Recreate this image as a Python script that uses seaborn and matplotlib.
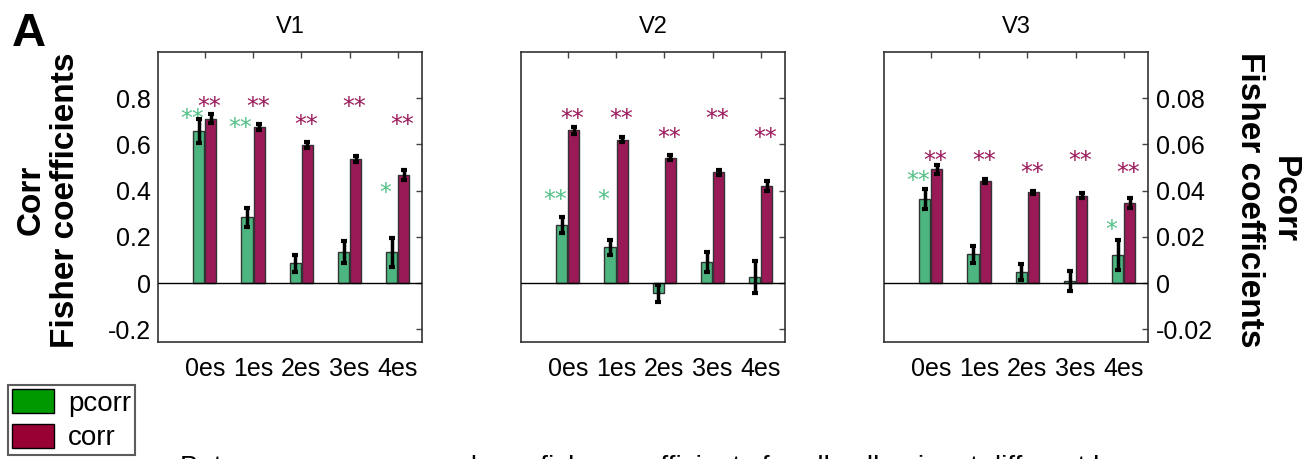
import numpy as np
import pandas as pd
import matplotlib
matplotlib.use("Agg")
import matplotlib.pyplot as plt
from matplotlib.patches import Patch
from matplotlib.ticker import FuncFormatter
import seaborn as sns

sns.set_theme(style="white")
plt.rcParams['font.family'] = ['Liberation Sans', 'DejaVu Sans']
plt.rcParams['text.color'] = 'black'
plt.rcParams['xtick.color'] = 'black'
plt.rcParams['ytick.color'] = 'black'
plt.rcParams['axes.labelcolor'] = 'black'

groups = ['0es', '1es', '2es', '3es', '4es']
areas = ['V1', 'V2', 'V3']

# corr on the left axis, pcorr on the right axis (10x finer)
v1_corr = [0.712, 0.676, 0.597, 0.535, 0.467]
v1_corr_err = [0.020, 0.013, 0.013, 0.013, 0.022]
v1_pcorr = [0.0659, 0.0284, 0.0085, 0.0134, 0.0134]
v1_pcorr_err = [0.0053, 0.0040, 0.0038, 0.0047, 0.0063]

v2_corr = [0.662, 0.621, 0.543, 0.479, 0.421]
v2_corr_err = [0.015, 0.010, 0.010, 0.012, 0.022]
v2_pcorr = [0.0251, 0.0154, -0.0045, 0.0092, 0.0027]
v2_pcorr_err = [0.0036, 0.0033, 0.0038, 0.0043, 0.0069]

v3_corr = [0.492, 0.442, 0.392, 0.378, 0.345]
v3_corr_err = [0.018, 0.008, 0.008, 0.010, 0.022]
v3_pcorr = [0.0363, 0.0124, 0.0049, 0.0010, 0.0121]
v3_pcorr_err = [0.0043, 0.0035, 0.0035, 0.0043, 0.0065]

# significance marks and the height they sit at
corr_stars = ['**', '**', '**', '**', '**']
v1_corr_star_y = [0.791, 0.791, 0.714, 0.791, 0.714]
v2_corr_star_y = [0.741, 0.741, 0.659, 0.741, 0.659]
v3_corr_star_y = [0.558, 0.558, 0.507, 0.558, 0.507]
v1_pcorr_stars = ['**', '**', '', '', '*']
v2_pcorr_stars = ['**', '*', '', '', '']
v3_pcorr_stars = ['**', '', '', '', '*']
v1_pcorr_star_y = [0.0739, 0.0702, np.nan, np.nan, 0.0421]
v2_pcorr_star_y = [0.0388, 0.0390, np.nan, np.nan, np.nan]
v3_pcorr_star_y = [0.0471, np.nan, np.nan, np.nan, 0.0261]

PCORR_SCALE = 10.0

panels = [
    (v1_corr, v1_corr_err, v1_pcorr, v1_pcorr_err, v1_corr_star_y, v1_pcorr_stars, v1_pcorr_star_y),
    (v2_corr, v2_corr_err, v2_pcorr, v2_pcorr_err, v2_corr_star_y, v2_pcorr_stars, v2_pcorr_star_y),
    (v3_corr, v3_corr_err, v3_pcorr, v3_pcorr_err, v3_corr_star_y, v3_pcorr_stars, v3_pcorr_star_y),
]

bar_colors = {'pcorr': '#4db57f', 'corr': '#9a1a58'}
star_colors = {'pcorr': '#55c088', 'corr': '#9a1a5c'}
star_shift = {'pcorr': -5, 'corr': -1}
W, H = 1314, 459
fig = plt.figure(figsize=(W / 100, H / 100), dpi=100)
lefts = [158, 521, 884]

for k, (corr, corr_err, pcorr, pcorr_err, cstar_y, pstars, pstar_y) in enumerate(panels):
    ax = fig.add_axes([lefts[k] / W, 1 - 342 / H, 264 / W, 290 / H])
    df = pd.DataFrame({
        'group': groups * 2,
        'kind': ['pcorr'] * 5 + ['corr'] * 5,
        'value': [p * PCORR_SCALE for p in pcorr] + list(corr),
    })
    errs = {'pcorr': [e * PCORR_SCALE for e in pcorr_err], 'corr': list(corr_err)}
    sns.barplot(data=df, x='group', y='value', hue='kind', hue_order=['pcorr', 'corr'],
                palette=bar_colors, width=0.5, gap=0.08, errorbar=None, legend=False,
                edgecolor='#333333', linewidth=1, saturation=1, ax=ax)

    star_info = {'pcorr': (pstars, [y * PCORR_SCALE for y in pstar_y]),
                 'corr': (corr_stars, cstar_y)}
    for kind, cont in zip(['pcorr', 'corr'], ax.containers):
        xs = [b.get_x() + b.get_width() / 2 for b in cont]
        hs = [b.get_height() for b in cont]
        ax.errorbar(xs, hs, yerr=errs[kind], fmt='none', ecolor='black',
                    elinewidth=2.5, capsize=2.5, capthick=3, zorder=5)
        labels, ys = star_info[kind]
        for x, lab, y in zip(xs, labels, ys):
            if lab and not np.isnan(y):
                ax.annotate(lab, (x, y), xytext=(star_shift[kind], -10),
                            textcoords='offset points', ha='center', va='baseline',
                            fontsize=17, color=star_colors[kind], family='DejaVu Sans')

    ax.axhline(0, color='black', lw=1, zorder=4)
    ax.set_xlim(-0.97, 4.5)
    ax.set_ylim(-0.255, 1.0)
    ax.set_yticks([-0.2, 0, 0.2, 0.4, 0.6, 0.8])
    ax.yaxis.set_major_formatter(FuncFormatter(lambda v, p: '%g' % round(v, 3)))
    ax.set_xlabel('')
    ax.set_ylabel('')
    ax.set_title(areas[k], fontsize=17, pad=14)
    ax.tick_params(direction='in', length=4, width=1, color='#444444',
                   top=True, right=True, labelsize=18, pad=5)
    ax.tick_params(axis='x', pad=11)
    if k > 0:
        ax.tick_params(labelleft=False)
    for s in ax.spines.values():
        s.set_color('#333333')
        s.set_linewidth(1.2)

    if k == 2:
        sec = ax.secondary_yaxis('right', functions=(lambda v: v / PCORR_SCALE,
                                                     lambda v: v * PCORR_SCALE))
        sec.set_yticks([-0.02, 0, 0.02, 0.04, 0.06, 0.08])
        sec.yaxis.set_major_formatter(FuncFormatter(lambda v, p: '%g' % round(v, 4)))
        sec.tick_params(length=0, labelsize=18, pad=6)
        sec.spines['right'].set_visible(False)

fig.text(48 / W, 1 - 200 / H, 'Corr\nFisher coefficients', rotation=90, ha='center',
         va='center', multialignment='center', fontsize=24, fontweight='bold',
         linespacing=1.15)
fig.text(1267 / W, 1 - 200 / H, 'Pcorr\nFisher coefficients', rotation=270, ha='center',
         va='center', multialignment='center', fontsize=24, fontweight='bold',
         linespacing=1.15)
fig.text(12 / W, 1 - 12 / H, 'A', ha='left', va='top', fontsize=34, fontweight='bold')

handles = [Patch(facecolor='#009900', edgecolor='black', label='pcorr'),
           Patch(facecolor='#990033', edgecolor='black', label='corr')]
leg = fig.legend(handles=handles, loc='upper left', bbox_to_anchor=(8 / W, 1 - 385 / H),
                 fontsize=20, frameon=True, fancybox=False, borderpad=0.15,
                 handlelength=1.5, handleheight=0.95, handletextpad=0.5,
                 labelspacing=0.25, borderaxespad=0)
leg.get_frame().set_edgecolor('#333333')
leg.get_frame().set_linewidth(1.5)

fig.text(180 / W, 1 - 455 / H,
         'Between-area pcorr and corr fisher coefficients for all cell pairs at different lags',
         ha='left', va='top', fontsize=20)

fig.savefig('out.png', dpi=100)
